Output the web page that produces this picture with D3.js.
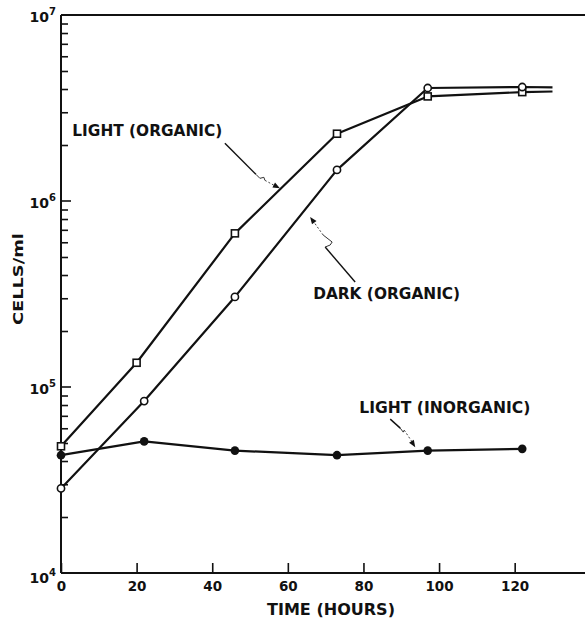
<!DOCTYPE html>
<html>
<head>
<meta charset="utf-8">
<script src="https://cdn.jsdelivr.net/npm/d3@7"></script>
<style>
  html, body { margin: 0; padding: 0; background: #fff; }
  svg { display: block; }
  text { font-family: "DejaVu Sans", sans-serif; font-weight: bold; fill: #111; }
</style>
</head>
<body>
<svg id="chart" width="585" height="619"></svg>
<script>
// Growth curves: cell density (cells/ml) against time (hours)
const hoursLightOrganic = [0, 20, 46, 73, 97, 122];
const cellsLightOrganic = [4.8e4, 1.35e5, 6.7e5, 2.3e6, 3.65e6, 3.85e6];

const hoursDarkOrganic = [0, 22, 46, 73, 97, 122];
const cellsDarkOrganic = [2.85e4, 8.4e4, 3.05e5, 1.47e6, 4.05e6, 4.1e6];

const hoursLightInorganic = [0, 22, 46, 73, 97, 122];
const cellsLightInorganic = [4.3e4, 5.1e4, 4.55e4, 4.3e4, 4.55e4, 4.65e4];

// Curves are drawn on past the last sample
const tailHours = 130;
const tailLightOrganic = 3.88e6;
const tailDarkOrganic = 4.08e6;

const xTicks = [0, 20, 40, 60, 80, 100, 120];
const yDecades = [4, 5, 6, 7];

const xTitle = "TIME (HOURS)";
const yTitle = "CELLS/ml";

// Curve labels: text position and arrow tip, in data units
const labelTexts = ["LIGHT (ORGANIC)", "DARK (ORGANIC)", "LIGHT (INORGANIC)"];
const labelHours = [3, 66.7, 78.9];
const labelCells = [2.23e6, 2.97e5, 7.25e4];
const tipHours = [57.9, 65.9, 93.7];
const tipCells = [1.17e6, 8.2e5, 4.75e4];

const svg = d3.select("#chart");
const plotLeft = 61, plotRight = 585, plotTop = 15, plotBottom = 573;

const x = d3.scaleLinear().domain([0, 138.6]).range([plotLeft, plotRight]);
const y = d3.scaleLog().domain([1e4, 1e7]).range([plotBottom, plotTop]);

// Frame: top rule
svg.append("line")
  .attr("x1", plotLeft).attr("x2", plotRight)
  .attr("y1", plotTop).attr("y2", plotTop)
  .attr("stroke", "#111").attr("stroke-width", 2);

// Bottom axis, ticks pointing inward
const xAxis = d3.axisBottom(x).tickValues(xTicks).tickSize(0).tickPadding(0);
const gx = svg.append("g").attr("transform", `translate(0,${plotBottom})`).call(xAxis);
gx.select(".domain").attr("stroke", "#111").attr("stroke-width", 2)
  .attr("d", `M${plotLeft},0H${plotRight}`);
gx.selectAll(".tick line").attr("y2", -10).attr("stroke", "#111").attr("stroke-width", 1.6);
gx.selectAll(".tick text")
  .attr("y", 18).attr("dy", 0)
  .style("font-size", "13.5px").style("font-family", "DejaVu Sans, sans-serif")
  .style("font-weight", "bold").attr("fill", "#111");

// Left axis with minor ticks 2..9 inside each decade
const minorVals = [];
for (let d = 4; d < 7; d++) for (let m = 2; m <= 9; m++) minorVals.push(m * Math.pow(10, d));
const yAxis = d3.axisLeft(y).tickValues(minorVals).tickSize(0).tickFormat("");
const gy = svg.append("g").attr("transform", `translate(${plotLeft},0)`).call(yAxis);
gy.select(".domain").attr("stroke", "#111").attr("stroke-width", 2)
  .attr("d", `M0,${plotBottom}V${plotTop}`);
gy.selectAll(".tick line").attr("x2", 7).attr("stroke", "#111").attr("stroke-width", 1.6);

gy.selectAll(".major").data(yDecades.slice(1, 3)).enter()
  .append("line").attr("class", "major")
  .attr("x1", 0).attr("x2", 10)
  .attr("y1", d => y(Math.pow(10, d))).attr("y2", d => y(Math.pow(10, d)))
  .attr("stroke", "#111").attr("stroke-width", 1.6);

// Decade labels 10^n
const yLab = svg.append("g").selectAll("text").data(yDecades).enter().append("text")
  .attr("x", 56)
  .attr("y", d => y(Math.pow(10, d)) + (d === 4 ? 10 : 7))
  .attr("text-anchor", "end")
  .style("font-size", "14px");
yLab.append("tspan").text("10");
yLab.append("tspan").attr("dy", -7).style("font-size", "10px").text(d => d);

// Axis titles
svg.append("text")
  .attr("x", 331).attr("y", 615)
  .attr("text-anchor", "middle")
  .attr("textLength", 128).attr("lengthAdjust", "spacingAndGlyphs")
  .style("font-size", "16px")
  .text(xTitle);

svg.append("text")
  .attr("transform", `translate(23,${y(Math.pow(10, 5.58))}) rotate(-90)`)
  .attr("text-anchor", "middle")
  .attr("textLength", 92).attr("lengthAdjust", "spacingAndGlyphs")
  .style("font-size", "14px")
  .text(yTitle);

// Series lines
const line = d3.line().x(d => x(d[0])).y(d => y(d[1]));
const zip = (a, b) => a.map((v, i) => [v, b[i]]);

const lightOrg = zip(hoursLightOrganic, cellsLightOrganic);
const darkOrg = zip(hoursDarkOrganic, cellsDarkOrganic);
const lightInorg = zip(hoursLightInorganic, cellsLightInorganic);

const lineStyle = p => p.attr("fill", "none").attr("stroke", "#111")
  .attr("stroke-width", 2.2).attr("stroke-linejoin", "round");

svg.append("path").datum(lightOrg.concat([[tailHours, tailLightOrganic]])).attr("d", line).call(lineStyle);
svg.append("path").datum(darkOrg.concat([[tailHours, tailDarkOrganic]])).attr("d", line).call(lineStyle);
svg.append("path").datum(lightInorg).attr("d", line).call(lineStyle);

// Markers
svg.append("g").selectAll("rect").data(lightOrg).enter().append("rect")
  .attr("x", d => x(d[0]) - 3.5).attr("y", d => y(d[1]) - 3.5)
  .attr("width", 7).attr("height", 7)
  .attr("fill", "#fff").attr("stroke", "#111").attr("stroke-width", 1.6);

svg.append("g").selectAll("circle").data(darkOrg).enter().append("circle")
  .attr("cx", d => x(d[0])).attr("cy", d => y(d[1])).attr("r", 3.6)
  .attr("fill", "#fff").attr("stroke", "#111").attr("stroke-width", 1.6);

svg.append("g").selectAll("circle").data(lightInorg).enter().append("circle")
  .attr("cx", d => x(d[0])).attr("cy", d => y(d[1])).attr("r", 4.3)
  .attr("fill", "#111");

// Curve labels with hand-drawn style leaders
const labelWidths = [150, 147, 171];
svg.append("g").selectAll("text").data(labelTexts).enter().append("text")
  .attr("x", (d, i) => x(labelHours[i]))
  .attr("y", (d, i) => y(labelCells[i]))
  .attr("textLength", (d, i) => labelWidths[i]).attr("lengthAdjust", "spacingAndGlyphs")
  .style("font-size", "15px")
  .text(d => d);

// Leader shapes as offsets from the arrow tip: solid run, small hook, dashed run
const leaderSolid = [
  [[-55, -45], [-24, -14]],
  [[45, 65], [15, 30]],
  [[-25, -28], [-15, -19]]
];
const leaderHook = [
  [[-24, -14], [-20, -10], [-16, -11], [-15, -8]],
  [[15, 30], [20, 28], [22, 25], [13, 18]],
  [[-15, -19], [-12, -15], [-11, -17]]
];
const leaderDash = [
  [[-15, -8], [-4, -2]],
  [[13, 18], [3, 4]],
  [[-11, -17], [-3, -5]]
];
const rel = d3.line();
labelTexts.forEach((t, i) => {
  const tx = x(tipHours[i]), ty = y(tipCells[i]);
  const g = svg.append("g").attr("transform", `translate(${tx},${ty})`);
  g.append("path").attr("d", rel(leaderSolid[i])).attr("fill", "none")
    .attr("stroke", "#111").attr("stroke-width", 1.4);
  g.append("path").attr("d", rel(leaderHook[i])).attr("fill", "none")
    .attr("stroke", "#333").attr("stroke-width", 1);
  g.append("path").attr("d", rel(leaderDash[i])).attr("fill", "none")
    .attr("stroke", "#444").attr("stroke-width", 1).attr("stroke-dasharray", "2,2");
  const last = leaderDash[i][0];
  const ang = Math.atan2(-last[1], -last[0]);
  g.append("path")
    .attr("d", "M0,0L-7,-2.8L-7,2.8Z")
    .attr("transform", `rotate(${ang * 180 / Math.PI})`)
    .attr("fill", "#111");
});
</script>
</body>
</html>
